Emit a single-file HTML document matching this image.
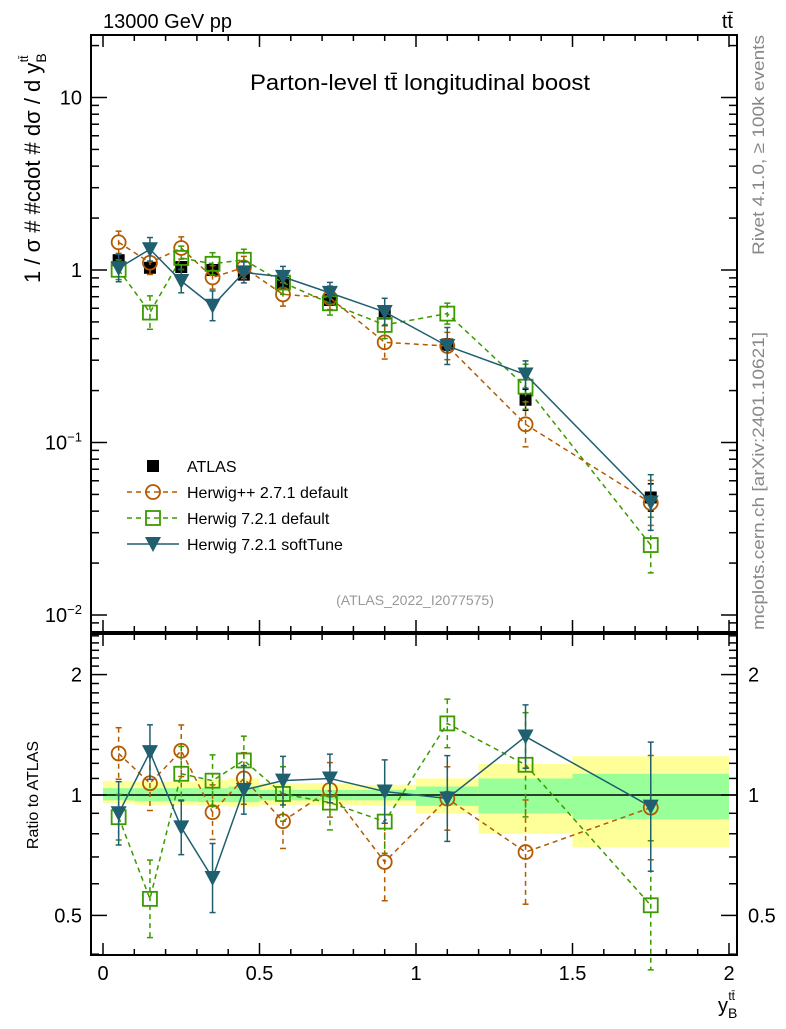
<!DOCTYPE html>
<html><head><meta charset="utf-8"><style>
body{margin:0;background:#fff}
svg{font-family:"Liberation Sans",sans-serif}
</style></head><body>
<svg id="c" width="786" height="1024" viewBox="0 0 786 1024">
<text x="103" y="28" font-size="20">13000 GeV pp</text>
<text x="733" y="28" font-size="20" text-anchor="end">tt̄</text>
<text x="250" y="90" font-size="22" textLength="340" lengthAdjust="spacingAndGlyphs">Parton-level tt̄ longitudinal boost</text>
<text x="415" y="605" font-size="14" fill="#999" text-anchor="middle">(ATLAS_2022_I2077575)</text>
<text transform="translate(764,255) rotate(-90)" font-size="17" fill="#888" textLength="220" lengthAdjust="spacingAndGlyphs">Rivet 4.1.0, ≥ 100k events</text>
<text transform="translate(764,630) rotate(-90)" font-size="17" fill="#888" textLength="298" lengthAdjust="spacingAndGlyphs">mcplots.cern.ch [arXiv:2401.10621]</text>
<text transform="translate(40,283) rotate(-90)" font-size="22">1 / σ # #cdot # dσ / d y<tspan font-size="14" dy="6">B</tspan><tspan font-size="12" dy="-18" dx="-9">tt̄</tspan></text>
<text transform="translate(38,795) rotate(-90)" font-size="16" text-anchor="middle">Ratio to ATLAS</text>
<text x="718" y="1012" font-size="20">y<tspan font-size="14" dy="6">B</tspan><tspan font-size="12" dy="-18" dx="-9">tt̄</tspan></text>
<g id="g"></g>
</svg>
<script>
const xs=[0.05,0.15,0.25,0.35,0.45,0.575,0.725,0.9,1.1,1.35,1.75];
const edges=[0,0.1,0.2,0.3,0.4,0.5,0.65,0.8,1.0,1.2,1.5,2.0];
const atlas=[1.14,1.03,1.04,1.0,0.94,0.84,0.67,0.56,0.37,0.177,0.048];
const atlasErr=[0.07,0.07,0.07,0.07,0.07,0.06,0.06,0.06,0.08,0.15,0.2];
const rHpp=[1.27,1.07,1.29,0.906,1.10,0.86,1.03,0.68,0.98,0.72,0.93];
const eHpp=[0.16,0.17,0.16,0.17,0.16,0.17,0.17,0.25,0.2,0.35,0.35];
const rH72=[0.88,0.55,1.13,1.086,1.22,1.006,0.957,0.858,1.51,1.19,0.53];
const eH72=[0.14,0.25,0.17,0.16,0.15,0.17,0.17,0.2,0.15,0.35,0.45];
const rSoft=[0.90,1.28,0.83,0.62,1.03,1.086,1.10,1.02,0.98,1.40,0.935];
const eSoft=[0.2,0.17,0.17,0.22,0.15,0.15,0.15,0.2,0.28,0.2,0.45];
const yelUp=[1.085,1.08,1.08,1.09,1.10,1.07,1.07,1.06,1.10,1.195,1.25];
const yelDn=[0.955,0.945,0.945,0.94,0.935,0.945,0.945,0.94,0.90,0.80,0.74];
const grnUp=[1.04,1.04,1.04,1.04,1.05,1.03,1.03,1.03,1.05,1.10,1.13];
const grnDn=[0.97,0.965,0.965,0.96,0.96,0.97,0.97,0.97,0.94,0.90,0.87];
const mainTicks=[10,1,0.1,0.01];
const mainTickLabels=["10","1","10<tspan font-size='13' dy='-8'>−1</tspan>","10<tspan font-size='13' dy='-8'>−2</tspan>"];
const ratioTicks=[2,1,0.5];
const xTicks=[0,0.5,1,1.5,2];

const L=91,R=737,T=35,MB=632,RT=634,RB=955;
const X=v=>103+v*313;
const YM=v=>270-172.5*Math.log10(v);
const YR=v=>795-400*Math.log10(v);
const g=document.getElementById('g');
const NS='http://www.w3.org/2000/svg';
function el(t,a,p){const e=document.createElementNS(NS,t);for(const k in a)e.setAttribute(k,a[k]);(p||g).appendChild(e);return e;}

for(let i=0;i<xs.length;i++){
 const b1=el('rect',{x:X(edges[i]),y:YR(yelUp[i]),width:X(edges[i+1])-X(edges[i]),height:YR(yelDn[i])-YR(yelUp[i]),fill:'#ffff99'});
 
 
 const b2=el('rect',{x:X(edges[i]),y:YR(grnUp[i]),width:X(edges[i+1])-X(edges[i]),height:YR(grnDn[i])-YR(grnUp[i]),fill:'#99ff99'});
 
 
}
el('line',{x1:L,x2:R,y1:YR(1),y2:YR(1),stroke:'#000','stroke-width':1.5});

for(const [t,b] of [[T,MB],[RT,RB]]){
 const f=el('rect',{x:L,y:t,width:R-L,height:b-t,fill:'none',stroke:'#000','stroke-width':2});
 
 
}
for(let k=0;k<=20;k++){const v=k/10,x=X(v),len=k%5==0?12:6;
 for(const [t,b] of [[T,MB],[RT,RB]]){el('line',{x1:x,x2:x,y1:b,y2:b-len,stroke:'#000','stroke-width':1.5});el('line',{x1:x,x2:x,y1:t,y2:t+len,stroke:'#000','stroke-width':1.5});}}
xTicks.forEach(v=>{const t=el('text',{x:X(v),y:980,'font-size':20,'text-anchor':'middle'});t.textContent=String(v);
 
 });
for(let d=-3;d<=1;d++)for(let m=1;m<10;m++){const v=m*Math.pow(10,d),y=YM(v);if(y<T||y>MB)continue;const len=m==1?16:8;
 el('line',{x1:L,x2:L+len,y1:y,y2:y,stroke:'#000','stroke-width':1.5});el('line',{x1:R,x2:R-len,y1:y,y2:y,stroke:'#000','stroke-width':1.5});}
mainTicks.forEach((v,i)=>{const t=el('text',{x:82,y:YM(v)+7,'font-size':20,'text-anchor':'end'});t.innerHTML=mainTickLabels[i];
 
 });
for(let v=0.4;v<=2.55;v+=0.1){const y=YR(v);if(y<RT||y>RB)continue;const big=[0.5,1,2].some(q=>Math.abs(q-v)<1e-6);const len=big?16:8;
 el('line',{x1:L,x2:L+len,y1:y,y2:y,stroke:'#000','stroke-width':1.5});el('line',{x1:R,x2:R-len,y1:y,y2:y,stroke:'#000','stroke-width':1.5});}
ratioTicks.forEach(v=>{for(const [x,a] of [[82,'end'],[748,'start']]){const t=el('text',{x:x,y:YR(v)+7,'font-size':20,'text-anchor':a});t.textContent=String(v);
 
 }});

function marker(kind,x,y,col){
 if(kind=='sq'){return el('rect',{x:x-6,y:y-6,width:12,height:12,fill:'#000'});}
 if(kind=='osq'){return el('rect',{x:x-7,y:y-7,width:14,height:14,fill:'none',stroke:col,'stroke-width':1.8});}
 if(kind=='circ'){return el('circle',{cx:x,cy:y,r:7,fill:'none',stroke:col,'stroke-width':1.8});}
 if(kind=='tri'){return el('path',{d:`M${x-8} ${y-7}L${x+8} ${y-7}L${x} ${y+8}Z`,fill:col});}
}
function series(vals,errs,Y,col,dash,kind,name){
 const pts=vals.map((v,i)=>X(xs[i])+','+Y(v)).join(' ');
 if(col){const pl=el('polyline',{points:pts,fill:'none',stroke:col,'stroke-width':1.5,'stroke-dasharray':dash||'none'});
  
  }
 vals.forEach((v,i)=>{const x=X(xs[i]),y1=Y(v*(1+errs[i])),y2=Y(v/(1+errs[i]));const c=col||'#000';
  el('line',{x1:x,x2:x,y1:y1,y2:y2,stroke:c,'stroke-width':1.5,'stroke-dasharray':dash||'none'});
  el('line',{x1:x-3,x2:x+3,y1:y1,y2:y1,stroke:c,'stroke-width':1.5});el('line',{x1:x-3,x2:x+3,y1:y2,y2:y2,stroke:c,'stroke-width':1.5});
  const m=marker(kind,x,Y(v),c);
  
  });
}
const mHpp=atlas.map((a,i)=>a*rHpp[i]),mH72=atlas.map((a,i)=>a*rH72[i]),mSoft=atlas.map((a,i)=>a*rSoft[i]);
series(atlas,atlasErr,YM,null,null,'sq','atlas');
series(mHpp,eHpp,YM,'#b35a00','5,4','circ','herwigpp');
series(mH72,eH72,YM,'#3a9a00','5,4','osq','herwig72');
series(mSoft,eSoft,YM,'#1f5f6f',null,'tri','softtune');
series(rHpp,eHpp,YR,'#b35a00','5,4','circ','ratio-herwigpp');
series(rH72,eH72,YR,'#3a9a00','5,4','osq','ratio-herwig72');
series(rSoft,eSoft,YR,'#1f5f6f',null,'tri','ratio-softtune');

const leg=[['ATLAS',null,null,'sq'],['Herwig++ 2.7.1 default','#b35a00','5,4','circ'],['Herwig 7.2.1 default','#3a9a00','5,4','osq'],['Herwig 7.2.1 softTune','#1f5f6f',null,'tri']];
leg.forEach((l,i)=>{const y=466+i*26;
 if(l[1])el('line',{x1:127,x2:179,y1:y,y2:y,stroke:l[1],'stroke-width':1.5,'stroke-dasharray':l[2]||'none'});
 marker(l[3],153,y,l[1]||'#000');
 const t=el('text',{x:187,y:y+6,'font-size':16});t.textContent=l[0];
 
 });
</script>
</body></html>
